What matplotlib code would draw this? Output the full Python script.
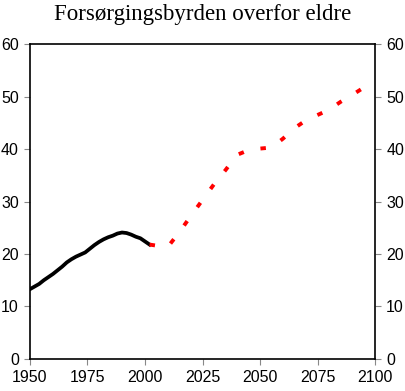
import matplotlib.pyplot as plt

# Historisk (svart linje)
aar_hist = [1950, 1952, 1954, 1956, 1958, 1960, 1962, 1964, 1966, 1968, 1970,
            1972, 1974, 1976, 1978, 1980, 1982, 1984, 1986, 1988, 1990, 1992,
            1994, 1996, 1998, 2000, 2002]
verdi_hist = [13.3, 13.8, 14.3, 15.0, 15.6, 16.2, 16.9, 17.6, 18.4, 19.0, 19.5,
              19.9, 20.3, 21.0, 21.7, 22.3, 22.8, 23.2, 23.5, 23.9, 24.1, 24.0,
              23.7, 23.3, 23.0, 22.4, 21.8]

# Framskrivning (rød stiplet linje)
aar_fram = [2002, 2005, 2010, 2015, 2020, 2025, 2030, 2035, 2040, 2045, 2050,
            2055, 2060, 2065, 2070, 2075, 2080, 2085, 2090, 2095, 2099]
verdi_fram = [21.8, 21.6, 21.4, 24.2, 27.3, 30.3, 33.3, 36.0, 38.9, 39.8, 40.1,
              40.3, 42.0, 44.0, 45.5, 46.5, 47.5, 49.0, 50.3, 51.7, 52.8]

xticks = [1950, 1975, 2000, 2025, 2050, 2075, 2100]
yticks = [0, 10, 20, 30, 40, 50, 60]

fig = plt.figure(figsize=(4.05, 3.91), dpi=100)
ax = fig.add_axes([0.074, 0.082, 0.852, 0.805])

ax.plot(aar_hist, verdi_hist, color='black', linewidth=2.7)
ax.plot(aar_fram, verdi_fram, color='red', linewidth=2.8, linestyle=(0, (1.4, 4.4)))

ax.set_xlim(1950, 2100)
ax.set_ylim(0, 60)
ax.set_xticks(xticks)
ax.set_yticks(yticks)

ax.tick_params(axis='both', direction='out', length=4, width=0.8, color='#888888',
               labelsize=11.5, pad=4)
ax.tick_params(axis='y', right=True, labelright=True)
for lab in ax.get_xticklabels() + ax.get_yticklabels():
    lab.set_fontfamily('Liberation Sans')
for t in ax.yaxis.get_major_ticks():
    t.label2.set_fontfamily('Liberation Sans')

for s in ax.spines.values():
    s.set_color('black')
    s.set_linewidth(1.2)

fig.suptitle('Forsørgingsbyrden overfor eldre', fontfamily='Liberation Serif',
             fontsize=16.5, y=0.99)

fig.savefig('out.png', dpi=100)
